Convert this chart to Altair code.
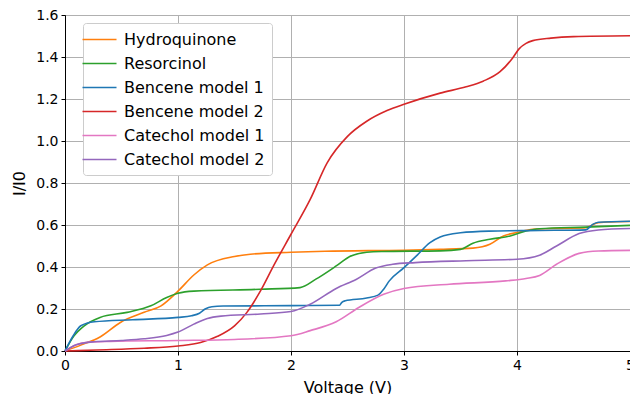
import altair as alt
import pandas as pd

series_names = ["Hydroquinone", "Resorcinol", "Bencene model 1", "Bencene model 2",
                "Catechol model 1", "Catechol model 2"]
series_colors = ["#ff7f0e", "#2ca02c", "#1f77b4", "#d62728", "#e377c2", "#9467bd"]

hq_x = [0, 0.14, 0.31, 0.49, 0.7, 0.85, 1.0, 1.14, 1.26, 1.5, 1.64, 2.0, 2.3, 3.0, 3.32, 3.61, 3.76, 3.88, 4.0, 4.14, 4.4, 4.61, 4.7, 4.8, 5.0]
hq_y = [0, 0.028, 0.067, 0.136, 0.184, 0.215, 0.285, 0.362, 0.41, 0.45, 0.461, 0.47, 0.475, 0.48, 0.484, 0.49, 0.508, 0.548, 0.564, 0.58, 0.584, 0.587, 0.608, 0.614, 0.617]

res_x = [0, 0.08, 0.17, 0.31, 0.55, 0.76, 0.9, 1.0, 1.14, 1.73, 2.08, 2.22, 2.4, 2.52, 2.67, 2.8, 3.32, 3.5, 3.61, 3.76, 3.94, 4.08, 4.2, 4.61, 5.0]
res_y = [0, 0.072, 0.12, 0.16, 0.184, 0.215, 0.255, 0.275, 0.285, 0.294, 0.302, 0.342, 0.405, 0.45, 0.47, 0.474, 0.477, 0.484, 0.513, 0.532, 0.548, 0.571, 0.582, 0.59, 0.598]

b1_x = [0, 0.07, 0.14, 0.26, 0.6, 1.0, 1.12, 1.19, 1.24, 1.3, 1.4, 2.0, 2.43, 2.45, 2.48, 2.67, 2.77, 2.82, 2.87, 3.0, 3.11, 3.23, 3.32, 3.5, 3.75, 4.2, 4.61, 4.67, 4.72, 5.0]
b1_y = [0, 0.07, 0.12, 0.139, 0.149, 0.16, 0.168, 0.18, 0.2, 0.211, 0.214, 0.216, 0.218, 0.232, 0.239, 0.252, 0.266, 0.294, 0.334, 0.397, 0.453, 0.516, 0.543, 0.563, 0.571, 0.574, 0.577, 0.603, 0.613, 0.618]

b2_x = [0, 0.28, 0.7, 1.0, 1.2, 1.35, 1.5, 1.61, 1.73, 1.85, 2.0, 2.17, 2.32, 2.5, 2.67, 2.85, 3.0, 3.32, 3.55, 3.7, 3.85, 3.96, 4.02, 4.08, 4.14, 4.3, 4.5, 5.0]
b2_y = [0, 0.005, 0.013, 0.024, 0.04, 0.07, 0.12, 0.184, 0.286, 0.41, 0.556, 0.722, 0.896, 1.022, 1.094, 1.145, 1.175, 1.228, 1.258, 1.285, 1.33, 1.394, 1.44, 1.465, 1.478, 1.49, 1.497, 1.501]

c1_x = [0, 0.1, 0.2, 0.4, 1.0, 1.5, 2.0, 2.17, 2.4, 2.6, 2.82, 3.0, 3.4, 3.9, 4.08, 4.2, 4.35, 4.55, 4.72, 5.0]
c1_y = [0, 0.03, 0.042, 0.046, 0.05, 0.055, 0.073, 0.097, 0.139, 0.207, 0.27, 0.298, 0.318, 0.334, 0.345, 0.36, 0.413, 0.465, 0.476, 0.479]

c2_x = [0, 0.1, 0.26, 0.5, 0.7, 0.9, 1.0, 1.14, 1.26, 1.38, 1.73, 2.0, 2.17, 2.4, 2.58, 2.75, 2.9, 3.1, 3.55, 4.0, 4.2, 4.35, 4.55, 4.72, 5.0]
c2_y = [0, 0.03, 0.044, 0.05, 0.058, 0.074, 0.09, 0.128, 0.155, 0.166, 0.176, 0.188, 0.223, 0.298, 0.342, 0.395, 0.413, 0.421, 0.43, 0.437, 0.456, 0.5, 0.559, 0.576, 0.583]

xs = [hq_x, res_x, b1_x, b2_x, c1_x, c2_x]
ys = [hq_y, res_y, b1_y, b2_y, c1_y, c2_y]

rows = []
for name, sx, sy in zip(series_names, xs, ys):
    for a, b in zip(sx, sy):
        rows.append({"series": name, "V": a, "I": b})
df = pd.DataFrame(rows)

chart = alt.Chart(df).mark_line(strokeWidth=1.6, interpolate="monotone").encode(
    x=alt.X("V:Q", scale=alt.Scale(domain=[0, 5], nice=False),
            axis=alt.Axis(title="Voltage (V)", values=[0, 1, 2, 3, 4, 5], format="d",
                          labelFlush=False)),
    y=alt.Y("I:Q", scale=alt.Scale(domain=[0, 1.6], nice=False),
            axis=alt.Axis(title="I/I0", values=[0, 0.2, 0.4, 0.6, 0.8, 1.0, 1.2, 1.4, 1.6],
                          format=".1f", labelFlush=False)),
    color=alt.Color("series:N", sort=series_names,
                    scale=alt.Scale(domain=series_names, range=series_colors),
                    legend=alt.Legend(title=None, orient="none", legendX=18, legendY=8,
                                      symbolType="M-2,0L2,0", symbolSize=289,
                                      symbolStrokeWidth=1.6, labelFontSize=16,
                                      labelFont="DejaVu Sans", labelColor="#000000",
                                      labelOffset=15, rowPadding=6, padding=7,
                                      fillColor="white", strokeColor="#cccccc",
                                      cornerRadius=3)),
    detail="series:N",
    order="V:Q",
).properties(
    width=565, height=336,
    autosize=alt.AutoSizeParams(type="none"),
    padding={"left": 65, "top": 15, "right": 0, "bottom": 43},
).configure_view(
    stroke="#000000", strokeWidth=1
).configure_axis(
    labelFont="DejaVu Sans", labelFontSize=14, labelColor="#000000",
    titleFont="DejaVu Sans", titleFontSize=16, titleFontWeight="normal", titleColor="#000000",
    domainColor="#000000", tickColor="#000000", tickSize=4, labelPadding=3,
    gridColor="#b0b0b0", gridWidth=1, grid=True
).configure_axisY(titlePadding=8).configure_axisX(titlePadding=7)

chart.save("out.html", embed_options={"renderer": "svg", "actions": False})
